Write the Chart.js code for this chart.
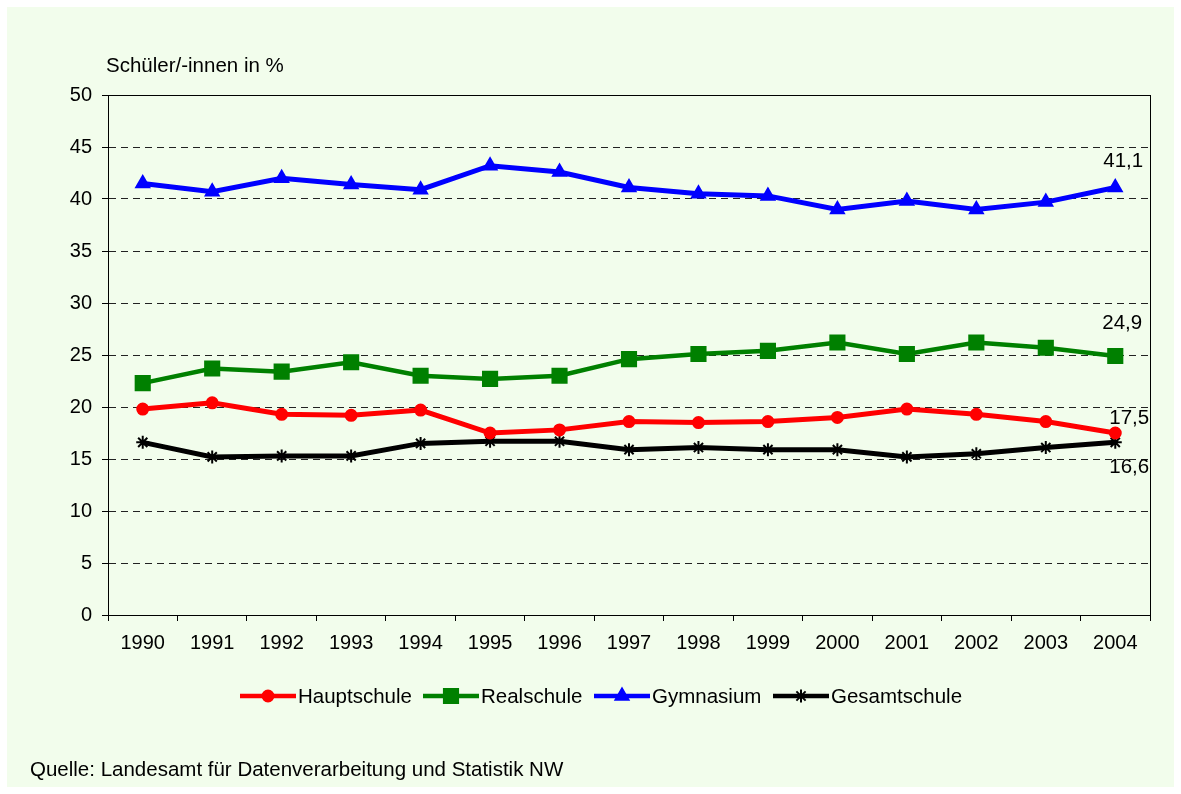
<!DOCTYPE html>
<html>
<head>
<meta charset="utf-8">
<script src="https://cdn.jsdelivr.net/npm/chart.js@4/dist/chart.umd.min.js"></script>
<style>
  html, body { margin: 0; padding: 0; background: #fff; }
  #wrap { position: absolute; left: 0; top: 0; width: 1181px; height: 794px; }
</style>
</head>
<body>
<div id="wrap"><canvas id="schulChart" width="1181" height="794"></canvas></div>
<script>
// Daten
const jahre = ['1990', '1991', '1992', '1993', '1994', '1995', '1996', '1997', '1998', '1999', '2000', '2001', '2002', '2003', '2004'];
const hauptschule = [19.8, 20.4, 19.3, 19.2, 19.7, 17.5, 17.8, 18.6, 18.5, 18.6, 19.0, 19.8, 19.3, 18.6, 17.5];
const realschule = [22.3, 23.7, 23.4, 24.3, 23.0, 22.7, 23.0, 24.6, 25.1, 25.4, 26.2, 25.1, 26.2, 25.7, 24.9];
const gymnasium = [41.5, 40.7, 42.0, 41.4, 40.9, 43.2, 42.6, 41.1, 40.5, 40.3, 39.0, 39.8, 39.0, 39.7, 41.1];
const gesamtschule = [16.6, 15.2, 15.3, 15.3, 16.5, 16.7, 16.7, 15.9, 16.1, 15.9, 15.9, 15.2, 15.5, 16.1, 16.6];
const yTicks = [0, 5, 10, 15, 20, 25, 30, 35, 40, 45, 50];
const endLabels = ['17,5', '24,9', '41,1', '16,6'];

const schrift = '"Liberation Sans", Arial, sans-serif';

const serien = [
    { label: 'Hauptschule', data: hauptschule, color: '#FF0000', style: 'circle', radius: 5.5, width: 5 },
    { label: 'Realschule', data: realschule, color: '#008000', style: 'rect', radius: 10, width: 4.5 },
    { label: 'Gymnasium', data: gymnasium, color: '#0000FF', style: 'triangle', radius: 7.5, width: 5 },
    { label: 'Gesamtschule', data: gesamtschule, color: '#000000', style: 'star', radius: 6.5, width: 5 }
];

// Hintergrund, Rahmen, Texte und Legende
const deko = {
    id: 'deko',
    beforeDraw(chart) {
        const ctx = chart.ctx;
        ctx.save();
        ctx.fillStyle = '#ffffff';
        ctx.fillRect(0, 0, chart.width, chart.height);
        ctx.fillStyle = '#F2FDEC';
        ctx.fillRect(7, 7, chart.width - 14, chart.height - 14);
        ctx.restore();
    },
    afterDraw(chart) {
        const ctx = chart.ctx;
        const a = chart.chartArea;
        ctx.save();
        ctx.strokeStyle = '#000';
        ctx.lineWidth = 1;
        ctx.strokeRect(Math.round(a.left) + 0.5, Math.round(a.top) + 0.5, Math.round(a.right - a.left), Math.round(a.bottom - a.top));

        ctx.fillStyle = '#000';
        ctx.font = '20.5px ' + schrift;
        ctx.textBaseline = 'middle';
        ctx.textAlign = 'left';
        ctx.fillText('Schüler/-innen in %', 106, 66);
        ctx.fillText('Quelle: Landesamt für Datenverarbeitung und Statistik NW', 30, 770);

        // Endwerte
        const offs = [[14, -15], [7, -33], [8, -26], [14, 25]];
        chart.data.datasets.forEach((ds, i) => {
            const meta = chart.getDatasetMeta(i);
            const p = meta.data[meta.data.length - 1];
            ctx.textAlign = 'center';
            ctx.fillText(endLabels[i], p.x + offs[i][0], p.y + offs[i][1]);
        });

        // Legende
        const lx = [240, 423, 594, 773];
        const ly = 696;
        serien.forEach((s, i) => {
            ctx.strokeStyle = s.color;
            ctx.lineWidth = 4.5;
            ctx.beginPath();
            ctx.moveTo(lx[i], ly);
            ctx.lineTo(lx[i] + 56, ly);
            ctx.stroke();
            ctx.fillStyle = s.color;
            ctx.lineWidth = 2;
            Chart.helpers.drawPoint(ctx, { pointStyle: s.style, radius: s.radius, borderWidth: 2, rotation: 0 }, lx[i] + 28, ly);
            ctx.fillStyle = '#000';
            ctx.textAlign = 'left';
            ctx.fillText(s.label, lx[i] + 58, ly + 1);
        });
        ctx.restore();
    }
};

const ctx = document.getElementById('schulChart').getContext('2d');
new Chart(ctx, {
    type: 'line',
    data: {
        labels: jahre,
        datasets: serien.map(s => ({
            label: s.label,
            data: s.data,
            borderColor: s.color,
            backgroundColor: s.color,
            borderWidth: s.width,
            pointStyle: s.style,
            pointRadius: s.radius,
            pointBorderWidth: 2,
            pointBorderColor: s.color,
            pointBackgroundColor: s.color,
            tension: 0,
            fill: false
        }))
    },
    options: {
        responsive: false,
        animation: false,
        layout: { padding: { left: 0, right: 31, top: 95, bottom: 0 } },
        plugins: {
            legend: { display: false },
            title: { display: false },
            tooltip: { enabled: false }
        },
        scales: {
            x: {
                offset: true,
                grid: {
                    offset: true,
                    drawOnChartArea: false,
                    tickLength: 6,
                    tickColor: '#000'
                },
                border: { color: '#000', width: 1 },
                ticks: { color: '#000', font: { family: schrift, size: 20 }, padding: 10, maxRotation: 0 },
                afterFit(scale) { scale.height = 179; }
            },
            y: {
                min: 0,
                max: 50,
                afterBuildTicks(scale) { scale.ticks = yTicks.map(v => ({ value: v })); },
                grid: {
                    color: c => (c.tick && (c.tick.value === 0 || c.tick.value === 50)) ? 'rgba(0,0,0,0)' : '#222',
                    lineWidth: 1,
                    tickLength: 6,
                    tickColor: '#000',
                    tickBorderDash: []
                },
                border: { color: '#000', width: 1, dash: [7, 5] },
                ticks: { color: '#000', font: { family: schrift, size: 20 }, padding: 10 },
                afterFit(scale) { scale.width = 108; }
            }
        }
    },
    plugins: [deko]
});
</script>
</body>
</html>
